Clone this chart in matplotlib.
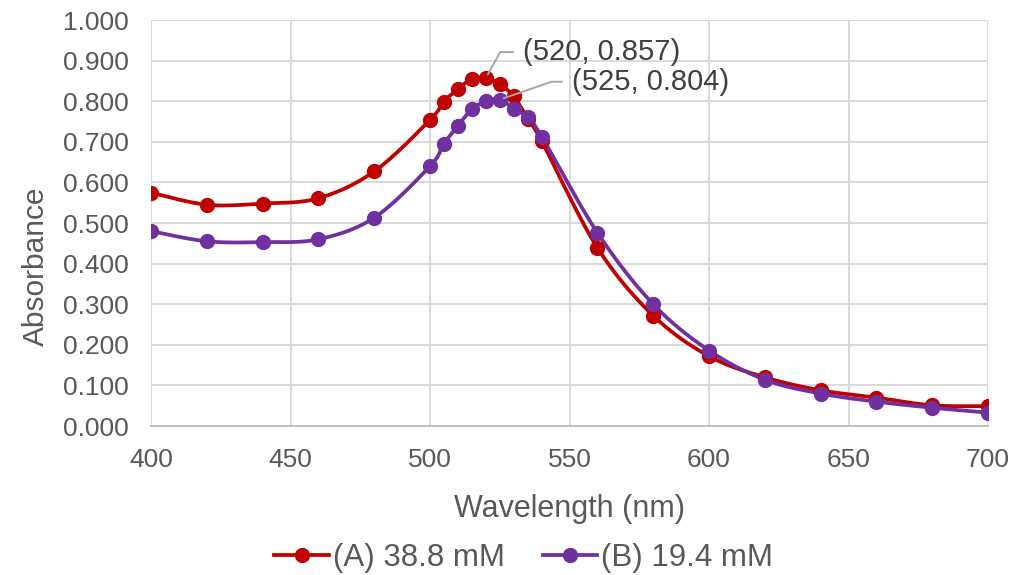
import numpy as np
import matplotlib
matplotlib.use("Agg")
import matplotlib.pyplot as plt
from matplotlib.ticker import FormatStrFormatter

# Data
wavelength = [400, 420, 440, 460, 480, 500, 505, 510, 515, 520, 525, 530, 535, 540,
              560, 580, 600, 620, 640, 660, 680, 700]
abs_a = [0.575, 0.545, 0.548, 0.561, 0.627, 0.754, 0.799, 0.830, 0.855, 0.857, 0.842,
         0.812, 0.757, 0.702, 0.439, 0.272, 0.172, 0.120, 0.088, 0.070, 0.051, 0.049]
abs_b = [0.480, 0.455, 0.453, 0.460, 0.513, 0.640, 0.695, 0.740, 0.780, 0.800, 0.804,
         0.782, 0.760, 0.713, 0.476, 0.300, 0.186, 0.114, 0.080, 0.060, 0.045, 0.033]
labels = ["(A) 38.8 mM", "(B) 19.4 mM"]
colors = ["#C00000", "#7030A0"]

text_color = "#595959"
grid_color = "#D9D9D9"


def smooth(x, y, n=20):
    # Excel-like smoothed line (Catmull-Rom style Bezier between points)
    x = np.asarray(x, float)
    y = np.asarray(y, float)
    px = np.concatenate([[x[0]], x, [x[-1]]])
    py = np.concatenate([[y[0]], y, [y[-1]]])
    xs, ys = [], []
    t = np.linspace(0, 1, n)
    for i in range(1, len(px) - 2):
        p0 = np.array([px[i], py[i]])
        p3 = np.array([px[i + 1], py[i + 1]])
        c1 = p0 + (np.array([px[i + 1], py[i + 1]]) - np.array([px[i - 1], py[i - 1]])) / 6
        c2 = p3 - (np.array([px[i + 2], py[i + 2]]) - np.array([px[i], py[i]])) / 6
        b = ((1 - t) ** 3)[:, None] * p0 + (3 * (1 - t) ** 2 * t)[:, None] * c1 \
            + (3 * (1 - t) * t ** 2)[:, None] * c2 + (t ** 3)[:, None] * p3
        xs.extend(b[:, 0])
        ys.extend(b[:, 1])
    return xs, ys


plt.rcParams["font.family"] = ["Liberation Sans", "DejaVu Sans"]

fig = plt.figure(figsize=(10.21, 5.75), dpi=100)
ax = fig.add_axes([0.1479, 0.2591, 0.8198, 0.7061])

for yv, lab, col in zip([abs_a, abs_b], labels, colors):
    sx, sy = smooth(wavelength, yv)
    ax.plot(sx, sy, color=col, linewidth=2.7, solid_capstyle="round", zorder=3)
    ax.plot(wavelength, yv, linestyle="none", marker="o", markersize=10,
            color=col, zorder=4)
    ax.plot([], [], color=col, linewidth=2.7, marker="o", markersize=10, label=lab)

ax.set_xlim(400, 700)
ax.set_ylim(0, 1.0)
ax.set_xticks(np.arange(400, 701, 50))
ax.set_yticks(np.arange(0, 1.001, 0.1))
ax.yaxis.set_major_formatter(FormatStrFormatter("%.3f"))
ax.grid(True, color=grid_color, linewidth=1.4)
ax.set_axisbelow(True)
ax.tick_params(length=0, labelsize=19, colors=text_color)
ax.tick_params(axis="x", pad=16)
ax.tick_params(axis="y", pad=16)
for s in ["top", "right", "left"]:
    ax.spines[s].set_visible(False)
ax.spines["bottom"].set_color("#BFBFBF")
ax.spines["bottom"].set_linewidth(1.4)

ax.set_xlabel("Wavelength (nm)", fontsize=22, color=text_color)
ax.set_ylabel("Absorbance", fontsize=21.5, color=text_color)
ax.xaxis.set_label_coords(0.5, -0.167)
ax.yaxis.set_label_coords(-0.121, 0.393)

# Peak data labels
ax.annotate("(520, 0.857)", xy=(520, 0.857), xytext=(533.3, 0.921),
            fontsize=21, color="#404040", va="center", ha="left",
            arrowprops=dict(arrowstyle="-", color="#A6A6A6", linewidth=1.4,
                            shrinkA=5, shrinkB=3,
                            connectionstyle="angle,angleA=0,angleB=61,rad=0"),
            zorder=5)
ax.annotate("(525, 0.804)", xy=(525, 0.804), xytext=(550.8, 0.848),
            fontsize=21, color="#404040", va="center", ha="left",
            arrowprops=dict(arrowstyle="-", color="#A6A6A6", linewidth=1.4,
                            shrinkA=5, shrinkB=3,
                            connectionstyle="angle,angleA=0,angleB=19,rad=0"),
            zorder=5)

fig.legend(loc="center", bbox_to_anchor=(0.513, 0.0296), ncol=2, frameon=False,
           fontsize=22.5, labelcolor=text_color, handlelength=1.75,
           handletextpad=0.13, columnspacing=1.2, borderpad=0)

fig.savefig("out.png", dpi=100)
